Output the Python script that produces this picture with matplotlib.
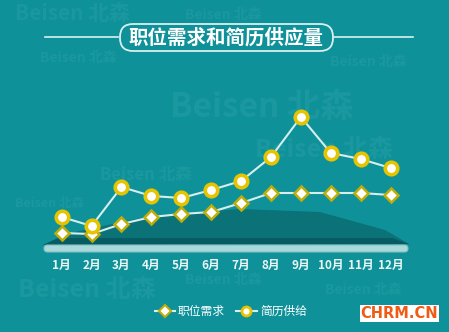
import matplotlib
matplotlib.use("Agg")
import matplotlib.pyplot as plt
from matplotlib.patches import FancyBboxPatch, Polygon
import numpy as np

plt.rcParams['font.family'] = ['Noto Sans CJK SC', 'DejaVu Sans']

months = ["1月", "2月", "3月", "4月", "5月", "6月", "7月", "8月", "9月", "10月", "11月", "12月"]
demand = [17, 16, 26, 33, 36, 38, 47, 57, 57, 57, 57, 55]      # 职位需求
supply = [33, 24, 63, 54, 52, 60, 69, 93, 133, 97, 91, 82]     # 简历供给
title = "职位需求和简历供应量"
legend_labels = ["职位需求", "简历供给"]

BG = "#0f9199"
W, H = 449, 332
fig = plt.figure(figsize=(W / 100, H / 100), dpi=100)
fig.patch.set_facecolor(BG)

# pixel-space overlay for decoration
deco = fig.add_axes([0, 0, 1, 1])
deco.set_xlim(0, W)
deco.set_ylim(H, 0)
deco.axis("off")
deco.set_facecolor(BG)

wm = "#1b989f"
for (x, y, s) in [(15, 14, 15), (185, 15, 10), (40, 58, 10), (330, 62, 10),
                  (170, 108, 24), (100, 175, 12), (255, 150, 18),
                  (15, 203, 9), (18, 290, 18), (185, 280, 10), (325, 290, 10)]:
    deco.text(x, y, "Beisen 北森", color=wm, fontsize=s, fontweight="bold",
              va="center", ha="left", zorder=0)

# title
deco.plot([45, 118], [37, 37], color="#d8f0f0", lw=1.2, zorder=2)
deco.plot([334, 413], [37, 37], color="#d8f0f0", lw=1.2, zorder=2)
box = FancyBboxPatch((120, 24), 213, 27, boxstyle="round,pad=0,rounding_size=13",
                     fc=BG, ec="#d8f0f0", lw=1.3, zorder=3)
deco.add_patch(box)
deco.text(226, 37.5, title, color="white", fontsize=14, fontweight="bold",
          ha="center", va="center", zorder=4)

# platform
plat = Polygon([[43, 245], [75, 232], [150, 216], [240, 209], [320, 212], [385, 230], [409, 244]],
               closed=True, fc="#0b7278", ec="none", zorder=1)
deco.add_patch(plat)
plat2 = Polygon([[43, 245], [58, 238], [392, 238], [409, 244]],
                closed=True, fc="#065c62", ec="none", zorder=1)
deco.add_patch(plat2)
bar = FancyBboxPatch((44, 245), 364, 7, boxstyle="round,pad=0,rounding_size=3.5",
                     fc="#a9d9da", ec="#7fc0c3", lw=0.8, zorder=2)
deco.add_patch(bar)

# logo
deco.add_patch(plt.Rectangle((360, 305), 79, 17, fc="white", ec="none", zorder=5))
deco.text(399.5, 314, "CHRM.CN", color="#f05a14", fontsize=10.5, fontweight="bold",
          family="DejaVu Sans", ha="center", va="center", zorder=6)

# data axes (x: month index, y: value)
ax = fig.add_axes([0, 0, 1, 1])
ax.patch.set_alpha(0)
ax.axis("off")
step = 29.9
x0 = 61.7
ax.set_xlim(-x0 / step, (W - x0) / step)
ax.set_ylim(250 - H, 250)
x = np.arange(len(months))

line_c = "#d6eeee"
ax.plot(x, demand, color=line_c, lw=1.5, zorder=5, marker="D", markersize=7.5,
        markerfacecolor="white", markeredgecolor="#bfae08", markeredgewidth=1.8)
ax.plot(x, supply, color=line_c, lw=1.5, zorder=6, marker="o", markersize=9,
        markerfacecolor="white", markeredgecolor="#e6c400", markeredgewidth=2.6)

for i, m in enumerate(months):
    ax.text(i, -15.5, m, color="#eaf6f6", fontsize=8.5, fontweight="bold",
            ha="center", va="center")

# legend
ly = 250 - 311
def px(xp):
    return (xp - x0) / step
ax.plot([px(155), px(175)], [ly, ly], color=line_c, lw=1.5, zorder=5)
ax.plot([px(165)], [ly], marker="D", markersize=6, markerfacecolor="white",
        markeredgecolor="#bfae08", markeredgewidth=1.5, zorder=6)
ax.text(px(178), ly, legend_labels[0], color="white", fontsize=8.5, ha="left", va="center")
ax.plot([px(236), px(257)], [ly, ly], color=line_c, lw=1.5, zorder=5)
ax.plot([px(246.5)], [ly], marker="o", markersize=6.5, markerfacecolor="white",
        markeredgecolor="#e6c400", markeredgewidth=2, zorder=6)
ax.text(px(260), ly, legend_labels[1], color="white", fontsize=8.5, ha="left", va="center")

fig.savefig("out.png", dpi=100, facecolor=BG)
